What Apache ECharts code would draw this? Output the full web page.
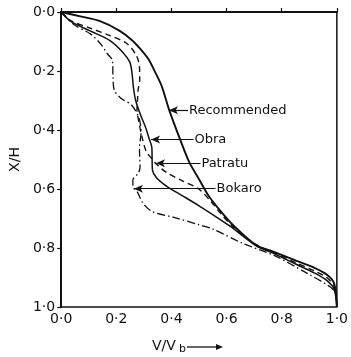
<!DOCTYPE html>
<html>
<head>
<meta charset="utf-8">
<script src="https://cdn.jsdelivr.net/npm/echarts/dist/echarts.min.js"></script>
<style>
html,body{margin:0;padding:0;background:#fff;}
#chart{width:351px;height:357px;}
</style>
</head>
<body>
<div id="chart"></div>
<script>
// ---- data (V/Vb, X/H) ----
const tickValues = [0, 0.2, 0.4, 0.6, 0.8, 1.0];

const recommended = [
  [0,0],[0.07,0.015],[0.141,0.031],[0.211,0.063],[0.257,0.096],[0.300,0.139],
  [0.318,0.162],[0.340,0.202],[0.365,0.252],[0.391,0.330],[0.431,0.431],[0.464,0.508],
  [0.499,0.565],[0.534,0.622],[0.579,0.676],[0.624,0.723],[0.706,0.790],
  [0.774,0.814],[0.852,0.843],[0.919,0.867],[0.963,0.890],[0.990,0.920],[1.0,1.0]
];

const obra = [
  [0,0],[0.036,0.033],[0.107,0.065],[0.177,0.097],[0.224,0.137],[0.249,0.170],
  [0.257,0.207],[0.262,0.255],[0.270,0.299],[0.288,0.349],[0.307,0.393],
  [0.318,0.426],[0.329,0.460],[0.330,0.507],[0.331,0.535],[0.345,0.561],
  [0.383,0.591],[0.442,0.624],[0.500,0.657],[0.555,0.690],[0.614,0.727],
  [0.706,0.792],[0.774,0.820],[0.852,0.855],[0.919,0.885],[0.963,0.910],
  [0.990,0.940],[1.0,1.0]
];

const patratu = [
  [0,0],[0.036,0.030],[0.106,0.055],[0.177,0.080],[0.237,0.106],[0.272,0.146],
  [0.284,0.186],[0.285,0.230],[0.279,0.264],[0.277,0.298],[0.275,0.330],
  [0.282,0.373],[0.294,0.427],[0.309,0.474],[0.326,0.494],[0.347,0.517],
  [0.382,0.544],[0.441,0.573],[0.499,0.600],[0.544,0.643],[0.579,0.683],
  [0.620,0.725],[0.706,0.788],[0.774,0.817],[0.852,0.850],[0.919,0.878],
  [0.963,0.900],[0.990,0.930],[1.0,0.990]
];

const bokaro = [
  [0,0],[0.047,0.043],[0.107,0.075],[0.143,0.108],[0.168,0.142],[0.186,0.165],
  [0.188,0.222],[0.193,0.266],[0.218,0.293],[0.256,0.316],[0.282,0.359],
  [0.290,0.406],[0.284,0.461],[0.286,0.525],[0.280,0.546],[0.260,0.570],
  [0.261,0.593],[0.278,0.613],[0.296,0.647],[0.331,0.677],[0.409,0.696],
  [0.502,0.722],[0.546,0.734],[0.658,0.784],[0.774,0.826],[0.885,0.882],
  [0.976,0.932],[1.0,0.956]
];

// annotation arrows: [tipV, X/H, tailV]
const recommendedNote = [0.391, 0.333, 0.46];
const obraNote = [0.326, 0.432, 0.48];
const patratuNote = [0.344, 0.513, 0.505];
const bokaroNote = [0.264, 0.599, 0.56];

const FONT = 'DejaVu Sans';
const INK = '#111';

function fmt(v){ return v.toFixed(1).replace('.', '\u00B7'); }

function note(n, text){
  return {
    silent: true,
    symbol: ['arrow','none'],
    symbolSize: [6, 9],
    lineStyle: {color: INK, width: 1.2, type: 'solid'},
    label: {show: true, position: 'end', formatter: text, color: INK,
            fontSize: 13, fontFamily: FONT, distance: 1},
    emphasis: {disabled: true},
    data: [[{coord: [n[0], n[1]]}, {coord: [n[2], n[1]]}]]
  };
}

function curve(name, data, width, type, n){
  return {
    type: 'line', name: name, data: data, showSymbol: false, smooth: 0.3,
    lineStyle: {color: INK, width: width, type: type},
    markLine: note(n, name)
  };
}

const chart = echarts.init(document.getElementById('chart'));
chart.setOption({
  animation: false,
  backgroundColor: '#fff',
  grid: {left: 50, top: 12, width: 295, height: 295, show: true,
         borderColor: INK, borderWidth: 1.5, backgroundColor: 'transparent'},
  xAxis: {
    type: 'value', min: 0, max: 1, interval: 0.2,
    axisLine: {lineStyle: {color: INK, width: 2}},
    axisTick: {show: true, inside: true, length: 4, lineStyle: {color: INK, width: 1.2}},
    splitLine: {show: false},
    axisLabel: {formatter: fmt, color: INK, fontSize: 14, fontFamily: FONT, margin: 5}
  },
  yAxis: {
    type: 'value', min: 0, max: 1, interval: 0.2, inverse: true,
    name: 'X/H', nameLocation: 'middle', nameRotate: 90, nameGap: 36,
    nameTextStyle: {color: INK, fontSize: 14, fontFamily: FONT},
    axisLine: {lineStyle: {color: INK, width: 2}},
    axisTick: {show: true, inside: false, length: 4, lineStyle: {color: INK, width: 1.2}},
    splitLine: {show: false},
    axisLabel: {formatter: fmt, color: INK, fontSize: 14, fontFamily: FONT, margin: 6}
  },
  series: [
    curve('Recommended', recommended, 1.9, 'solid', recommendedNote),
    curve('Obra', obra, 1.5, 'solid', obraNote),
    curve('Patratu', patratu, 1.4, [6, 4], patratuNote),
    curve('Bokaro', bokaro, 1.3, [8, 3, 1.5, 3], bokaroNote)
  ],
  graphic: [
    {type: 'text', left: 152, top: 339,
     style: {text: 'V/V', fill: INK, font: '14px "DejaVu Sans"'}},
    {type: 'text', left: 179, top: 344,
     style: {text: 'b', fill: INK, font: '11px "DejaVu Sans"'}},
    {type: 'line', shape: {x1: 187, y1: 347, x2: 219, y2: 347},
     style: {stroke: INK, lineWidth: 1.3}},
    {type: 'polygon', shape: {points: [[216, 344], [223, 347], [216, 350]]},
     style: {fill: INK}}
  ]
});
</script>
</body>
</html>
